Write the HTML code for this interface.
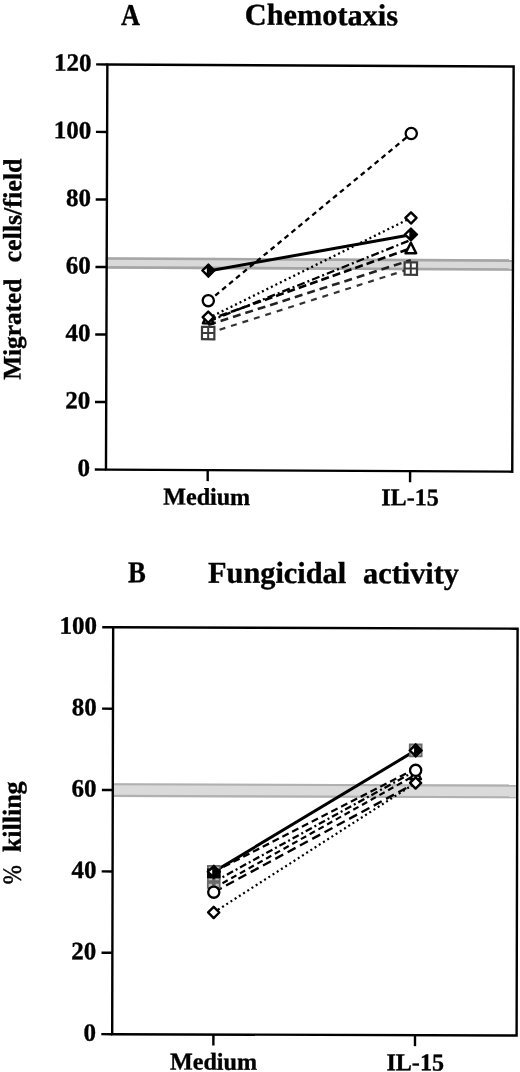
<!DOCTYPE html>
<html><head><meta charset="utf-8"><title>Chemotaxis and fungicidal activity</title>
<style>html,body{margin:0;padding:0;background:#fff;width:520px;height:1072px;overflow:hidden;font-family:"Liberation Serif",serif}svg{display:block;will-change:transform}</style>
</head><body>
<svg width="520" height="1072" viewBox="0 0 520 1072" font-family='"Liberation Serif", serif'>
<rect width="520" height="1072" fill="#fff"/>
<g transform="matrix(1 0.0051 -0.0034 1 0.9112 -1.5810)">
<rect x="106.67" y="258.27" width="406.28" height="11.48" fill="#d9d9d9"/>
<rect x="106.67" y="258.27" width="406.28" height="2.6" fill="#a6a6a6"/>
<rect x="106.67" y="267.15" width="406.28" height="2.6" fill="#a6a6a6"/>
<line x1="208.40" y1="301.82" x2="410.80" y2="133.01" stroke="#000" stroke-width="2.3" stroke-dasharray="5 4"/>
<line x1="208.40" y1="271.44" x2="410.80" y2="234.30" stroke="#000" stroke-width="3.0"/>
<line x1="208.40" y1="318.70" x2="410.80" y2="217.41" stroke="#000" stroke-width="2.3" stroke-dasharray="2 3"/>
<line x1="208.40" y1="322.08" x2="410.80" y2="239.36" stroke="#000" stroke-width="2.3" stroke-dasharray="8 3 2 3"/>
<line x1="208.40" y1="320.39" x2="410.80" y2="247.80" stroke="#000" stroke-width="2.6" stroke-dasharray="8 4"/>
<line x1="208.40" y1="325.46" x2="410.80" y2="259.62" stroke="#222" stroke-width="2.6" stroke-dasharray="8 5"/>
<line x1="208.40" y1="333.90" x2="410.80" y2="268.06" stroke="#333" stroke-width="2.2" stroke-dasharray="6 6"/>
<rect x="202.20" y="327.36" width="12.40" height="12.40" fill="#fff" stroke="#3a3a3a" stroke-width="2.2"/><path d="M208.40 327.36V339.76M202.20 333.56H214.60" stroke="#3a3a3a" stroke-width="2"/>
<path d="M208.40 313.50L213.70 323.90L203.10 323.90Z" fill="#fff" stroke="#000" stroke-width="2.5" stroke-linejoin="round"/>
<path d="M208.40 312.09L214.00 317.69L208.40 323.29L202.80 317.69Z" fill="#fff" stroke="#000" stroke-width="2.4" stroke-linejoin="round"/>
<circle cx="208.40" cy="301.15" r="5.6" fill="#fff" stroke="#000" stroke-width="2.3"/>
<path d="M208.40 264.50L215.00 271.10L208.40 277.70L201.80 271.10Z" fill="#000" stroke="#000" stroke-width="1.4" stroke-linejoin="round"/><path d="M204.00 271.10L206.80 268.70L206.80 273.50Z" fill="#fff"/>
<rect x="404.60" y="261.86" width="12.40" height="12.40" fill="#fff" stroke="#3a3a3a" stroke-width="2.2"/><path d="M410.80 261.86V274.26M404.60 268.06H417.00" stroke="#3a3a3a" stroke-width="2"/>
<path d="M410.80 242.26L416.10 252.66L405.50 252.66Z" fill="#fff" stroke="#000" stroke-width="2.5" stroke-linejoin="round"/>
<path d="M410.80 227.36L417.40 233.96L410.80 240.56L404.20 233.96Z" fill="#000" stroke="#000" stroke-width="1.4" stroke-linejoin="round"/><path d="M406.40 233.96L409.20 231.56L409.20 236.36Z" fill="#fff"/>
<path d="M410.80 211.81L416.40 217.41L410.80 223.01L405.20 217.41Z" fill="#fff" stroke="#000" stroke-width="2.4" stroke-linejoin="round"/>
<circle cx="410.80" cy="133.01" r="5.6" fill="#fff" stroke="#000" stroke-width="2.3"/>
<rect x="106.67" y="65.48" width="406.28" height="405.16" fill="none" stroke="#000" stroke-width="2.4"/>
<line x1="95.47" y1="470.64" x2="106.67" y2="470.64" stroke="#000" stroke-width="2.4"/>
<text x="90.80" y="477.24" text-anchor="end" font-size="25" font-weight="bold" stroke="#000" stroke-width="0.35">0</text>
<line x1="95.47" y1="403.11" x2="106.67" y2="403.11" stroke="#000" stroke-width="2.4"/>
<text x="90.80" y="409.71" text-anchor="end" font-size="25" font-weight="bold" stroke="#000" stroke-width="0.35">20</text>
<line x1="95.47" y1="335.59" x2="106.67" y2="335.59" stroke="#000" stroke-width="2.4"/>
<text x="90.80" y="342.19" text-anchor="end" font-size="25" font-weight="bold" stroke="#000" stroke-width="0.35">40</text>
<line x1="95.47" y1="268.06" x2="106.67" y2="268.06" stroke="#000" stroke-width="2.4"/>
<text x="90.80" y="274.66" text-anchor="end" font-size="25" font-weight="bold" stroke="#000" stroke-width="0.35">60</text>
<line x1="95.47" y1="200.53" x2="106.67" y2="200.53" stroke="#000" stroke-width="2.4"/>
<text x="90.80" y="207.13" text-anchor="end" font-size="25" font-weight="bold" stroke="#000" stroke-width="0.35">80</text>
<line x1="95.47" y1="133.01" x2="106.67" y2="133.01" stroke="#000" stroke-width="2.4"/>
<text x="90.80" y="139.61" text-anchor="end" font-size="25" font-weight="bold" stroke="#000" stroke-width="0.35">100</text>
<line x1="95.47" y1="65.48" x2="106.67" y2="65.48" stroke="#000" stroke-width="2.4"/>
<text x="90.80" y="72.08" text-anchor="end" font-size="25" font-weight="bold" stroke="#000" stroke-width="0.35">120</text>
<line x1="208.40" y1="470.64" x2="208.40" y2="481.64" stroke="#000" stroke-width="2.4"/>
<text x="164.00" y="505.30" font-size="24.1" font-weight="bold" stroke="#000" stroke-width="0.35">Medium</text>
<line x1="410.80" y1="470.64" x2="410.80" y2="481.64" stroke="#000" stroke-width="2.4"/>
<text x="382.00" y="504.80" font-size="24.1" font-weight="bold" stroke="#000" stroke-width="0.35">IL-15</text>
<text transform="translate(120.30 26.00) scale(0.87 1)" font-size="30.3" font-weight="bold" stroke="#000" stroke-width="0.35">A</text>
<text x="244.00" y="25.00" font-size="30.3" font-weight="bold" stroke="#000" stroke-width="0.35">Chemotaxis</text>
<text transform="translate(21.00 381.30) rotate(-90) scale(1 1)" font-size="25.3" font-weight="bold" stroke="#000" stroke-width="0.35">Migrated</text>
<text transform="translate(21.00 264.00) rotate(-90) scale(1 1)" font-size="26" font-weight="bold" stroke="#000" stroke-width="0.35">cells/field</text>
</g>
<g transform="matrix(1 0.0034 -0.0024 1 1.9944 -1.0710)">
<rect x="112.68" y="783.84" width="404.42" height="13.83" fill="#dadada"/>
<rect x="112.68" y="783.84" width="404.42" height="2.2" fill="#b0b0b0"/>
<rect x="112.68" y="795.47" width="404.42" height="2.2" fill="#b0b0b0"/>
<line x1="213.90" y1="872.13" x2="415.50" y2="750.06" stroke="#000" stroke-width="3.0"/>
<line x1="213.90" y1="872.13" x2="415.50" y2="768.37" stroke="#000" stroke-width="2.3" stroke-dasharray="7 4"/>
<line x1="213.90" y1="882.30" x2="415.50" y2="770.41" stroke="#000" stroke-width="2.3" stroke-dasharray="7 3 2 3"/>
<line x1="213.90" y1="888.40" x2="415.50" y2="774.48" stroke="#000" stroke-width="2.2" stroke-dasharray="6 4"/>
<line x1="213.90" y1="892.47" x2="415.50" y2="782.61" stroke="#000" stroke-width="2.4" stroke-dasharray="9 5"/>
<line x1="213.90" y1="912.82" x2="415.50" y2="782.61" stroke="#000" stroke-width="2.2" stroke-dasharray="2 3"/>
<rect x="207.10" y="875.50" width="13.60" height="13.60" fill="#6a6a6a"/><rect x="208.90" y="877.30" width="3.2" height="3.2" fill="#bdbdbd"/><rect x="208.90" y="884.10" width="3.2" height="3.2" fill="#bdbdbd"/><rect x="215.70" y="877.30" width="3.2" height="3.2" fill="#bdbdbd"/><rect x="215.70" y="884.10" width="3.2" height="3.2" fill="#bdbdbd"/>
<rect x="207.10" y="865.33" width="13.60" height="13.60" fill="#6a6a6a"/><rect x="208.90" y="867.13" width="3.2" height="3.2" fill="#bdbdbd"/><rect x="208.90" y="873.93" width="3.2" height="3.2" fill="#bdbdbd"/><rect x="215.70" y="867.13" width="3.2" height="3.2" fill="#bdbdbd"/><rect x="215.70" y="873.93" width="3.2" height="3.2" fill="#bdbdbd"/>
<rect x="207.20" y="868.96" width="13.4" height="9.6" fill="#000"/>
<path d="M213.90 865.53L220.50 872.13L213.90 878.73L207.30 872.13Z" fill="#000" stroke="#000" stroke-width="1.4" stroke-linejoin="round"/><path d="M209.50 872.13L212.30 869.73L212.30 874.53Z" fill="#fff"/>
<circle cx="213.90" cy="892.47" r="5.6" fill="#fff" stroke="#000" stroke-width="2.3"/>
<path d="M213.90 907.22L219.50 912.82L213.90 918.42L208.30 912.82Z" fill="#fff" stroke="#000" stroke-width="2.4" stroke-linejoin="round"/>
<path d="M415.50 768.46L420.80 778.86L410.20 778.86Z" fill="#fff" stroke="#000" stroke-width="2.5" stroke-linejoin="round"/>
<path d="M415.50 777.01L421.10 782.61L415.50 788.21L409.90 782.61Z" fill="#fff" stroke="#000" stroke-width="2.4" stroke-linejoin="round"/>
<circle cx="415.50" cy="770.00" r="5.6" fill="#fff" stroke="#000" stroke-width="2.3"/>
<rect x="408.70" y="743.26" width="13.60" height="13.60" fill="#6a6a6a"/><rect x="410.50" y="745.06" width="3.2" height="3.2" fill="#bdbdbd"/><rect x="410.50" y="751.86" width="3.2" height="3.2" fill="#bdbdbd"/><rect x="417.30" y="745.06" width="3.2" height="3.2" fill="#bdbdbd"/><rect x="417.30" y="751.86" width="3.2" height="3.2" fill="#bdbdbd"/>
<path d="M415.50 743.46L422.10 750.06L415.50 756.66L408.90 750.06Z" fill="#000" stroke="#000" stroke-width="1.4" stroke-linejoin="round"/><path d="M411.10 750.06L413.90 747.66L413.90 752.46Z" fill="#fff"/>
<rect x="112.68" y="628.00" width="404.42" height="406.88" fill="none" stroke="#000" stroke-width="2.4"/>
<line x1="101.78" y1="1034.88" x2="112.68" y2="1034.88" stroke="#000" stroke-width="2.4"/>
<text x="96.50" y="1041.48" text-anchor="end" font-size="25" font-weight="bold" stroke="#000" stroke-width="0.35">0</text>
<line x1="101.78" y1="953.50" x2="112.68" y2="953.50" stroke="#000" stroke-width="2.4"/>
<text x="96.50" y="960.10" text-anchor="end" font-size="25" font-weight="bold" stroke="#000" stroke-width="0.35">20</text>
<line x1="101.78" y1="872.13" x2="112.68" y2="872.13" stroke="#000" stroke-width="2.4"/>
<text x="96.50" y="878.73" text-anchor="end" font-size="25" font-weight="bold" stroke="#000" stroke-width="0.35">40</text>
<line x1="101.78" y1="790.75" x2="112.68" y2="790.75" stroke="#000" stroke-width="2.4"/>
<text x="96.50" y="797.35" text-anchor="end" font-size="25" font-weight="bold" stroke="#000" stroke-width="0.35">60</text>
<line x1="101.78" y1="709.38" x2="112.68" y2="709.38" stroke="#000" stroke-width="2.4"/>
<text x="96.50" y="715.98" text-anchor="end" font-size="25" font-weight="bold" stroke="#000" stroke-width="0.35">80</text>
<line x1="101.78" y1="628.00" x2="112.68" y2="628.00" stroke="#000" stroke-width="2.4"/>
<text x="96.50" y="634.60" text-anchor="end" font-size="25" font-weight="bold" stroke="#000" stroke-width="0.35">100</text>
<line x1="213.90" y1="1034.88" x2="213.90" y2="1045.78" stroke="#000" stroke-width="2.4"/>
<text x="170.60" y="1070.00" font-size="24.1" font-weight="bold" stroke="#000" stroke-width="0.35">Medium</text>
<line x1="415.50" y1="1034.88" x2="415.50" y2="1045.78" stroke="#000" stroke-width="2.4"/>
<text x="387.00" y="1070.00" font-size="24.1" font-weight="bold" stroke="#000" stroke-width="0.35">IL-15</text>
<text transform="translate(127.50 583.00) scale(0.88 1)" font-size="30.3" font-weight="bold" stroke="#000" stroke-width="0.35">B</text>
<text x="207.50" y="583.00" font-size="30.3" font-weight="bold" stroke="#000" stroke-width="0.35">Fungicidal</text>
<text x="362.50" y="583.00" font-size="30.3" font-weight="bold" stroke="#000" stroke-width="0.35">activity</text>
<text transform="translate(20.80 853.20) rotate(-90) scale(1 1)" font-size="26" font-weight="bold" stroke="#000" stroke-width="0.35">killing</text>
<text transform="translate(20.80 885.30) rotate(-90) scale(0.88 1)" font-size="26" font-weight="normal" stroke="#000" stroke-width="0.5">%</text>
</g>
</svg>
</body></html>
